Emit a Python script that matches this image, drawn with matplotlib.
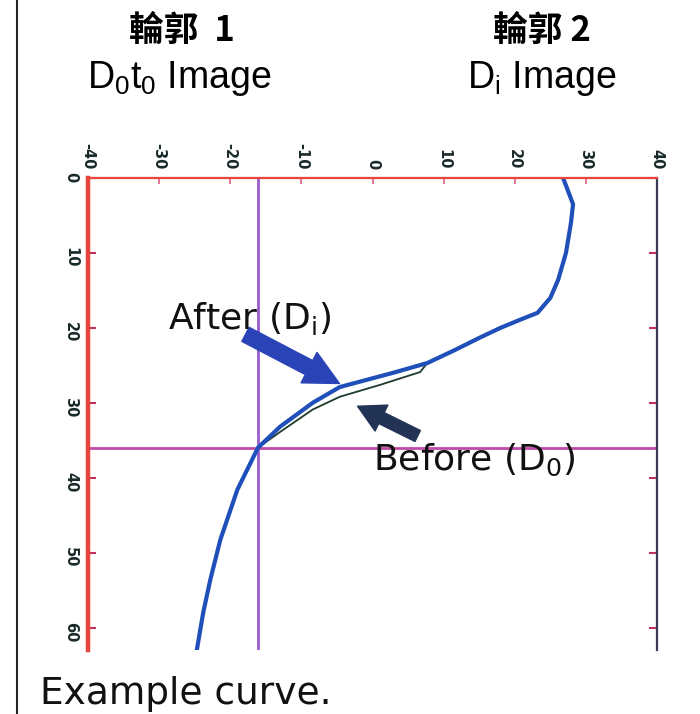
import matplotlib
matplotlib.use("Agg")
import matplotlib.pyplot as plt
from matplotlib.lines import Line2D

plt.rcParams["font.family"] = ["Liberation Sans", "Noto Sans CJK TC", "DejaVu Sans"]
plt.rcParams["mathtext.fontset"] = "custom"
plt.rcParams["mathtext.rm"] = "Liberation Sans"

# Curva después (D_i): profundidad y valor
after_depth = [0, 2, 3.5, 6, 10, 13.6, 16, 18, 18.9, 20, 21.3, 23, 24.7, 26,
               27.9, 30, 33.2, 36, 41.6, 48.3, 53.6, 58, 63]
after_x = [26.8, 27.6, 28.2, 27.9, 27.2, 26.1, 25.0, 23.2, 20.8, 18.0, 15.1,
           11.5, 7.7, 2.9, -4.6, -8.4, -13.0, -16.1, -19.0, -21.4, -22.8,
           -23.8, -24.7]

# Curva antes (D_0), solo el tramo donde se separa
before_depth = [24.7, 25.9, 27.6, 29.2, 30.9, 33.9, 36]
before_x = [7.7, 6.7, 1.1, -4.6, -8.4, -13.0, -16.1]

x_ticks = [-40, -30, -20, -10, 0, 10, 20, 30, 40]
y_ticks = [0, 10, 20, 30, 40, 50, 60]
v_line = -16.1
h_line = 36

fig = plt.figure(figsize=(7, 7.14), dpi=100)
ax = fig.add_axes([88 / 700, 1 - 650 / 714, (657 - 88) / 700, (650 - 178) / 714])

ax.axvline(v_line, color="#9a5ccf", lw=2)
ax.axhline(h_line, color="#c04aa8", lw=2)

ax.plot(before_x, before_depth, color="#1e3a2a", lw=1.3)
ax.plot(after_x, after_depth, color="#1f4fb8", lw=3)

ax.set_xlim(-40, 40)
ax.set_ylim(63, 0)
ax.set_xticks(x_ticks)
ax.set_yticks(y_ticks)
ax.set_xticklabels([str(v) for v in x_ticks], rotation=-90, fontsize=10.5,
                   fontweight="bold", color="#1a2a2a", family="DejaVu Sans")
ax.set_yticklabels([str(v) for v in y_ticks], rotation=-90, fontsize=10.5,
                   fontweight="bold", color="#1a2a2a", family="DejaVu Sans")
ax.xaxis.tick_top()
ax.tick_params(axis="x", direction="in", length=4, width=1.2, color="#e06080", pad=6)
ax.tick_params(axis="y", direction="in", length=6, width=1.5, color="#c03060",
               pad=7, right=True)

ax.spines["left"].set_color("#e8443a")
ax.spines["left"].set_linewidth(3.2)
ax.spines["top"].set_color("#e8443a")
ax.spines["top"].set_linewidth(1.6)
ax.spines["right"].set_color("#3a3a5a")
ax.spines["right"].set_linewidth(1.6)
ax.spines["bottom"].set_visible(False)

# Flechas y etiquetas
ax.annotate("", xy=(-4.3, 27.6), xytext=(-18.2, 20.7),
            arrowprops=dict(arrowstyle="simple,head_width=1.3,head_length=1.3,tail_width=0.6",
                            mutation_scale=19, color="#2a44b8"))
ax.annotate("", xy=(-2.45, 30.3), xytext=(6.7, 34.6),
            arrowprops=dict(arrowstyle="simple,head_width=1.3,head_length=1.2,tail_width=0.55",
                            mutation_scale=16, color="#223355"))
ax.text(-28.7, 18.7, r"After (D$_\mathrm{i}$)", fontsize=26, ha="left", va="center",
        family="DejaVu Sans", math_fontfamily="dejavusans", color="#111111")
ax.text(0.1, 37.6, r"Before (D$_\mathrm{0}$)", fontsize=26, ha="left", va="center",
        family="DejaVu Sans", math_fontfamily="dejavusans", color="#111111")

# Encabezados
fig.text(182 / 700, 1 - 30 / 714, "輪郭  1", fontsize=25, fontweight="bold",
         ha="center", va="center", family=["Noto Sans CJK TC", "DejaVu Sans"])
fig.text(542 / 700, 1 - 30 / 714, "輪郭 2", fontsize=25, fontweight="bold",
         ha="center", va="center", family=["Noto Sans CJK TC", "DejaVu Sans"])
fig.text(179 / 700, 1 - 88 / 714, r"D$_0$t$_0$ Image", fontsize=27,
         ha="center", va="baseline")
fig.text(542 / 700, 1 - 88 / 714, r"D$_\mathrm{i}$ Image", fontsize=27,
         ha="center", va="baseline")
fig.text(40 / 700, 1 - 704 / 714, "Example curve.", fontsize=27, ha="left",
         va="baseline", family="DejaVu Sans", color="#111111")

fig.add_artist(Line2D([17 / 700, 17 / 700], [0, 1], color="#222222", lw=1.5,
                      transform=fig.transFigure))

fig.savefig("out.png", dpi=100, facecolor="white")
